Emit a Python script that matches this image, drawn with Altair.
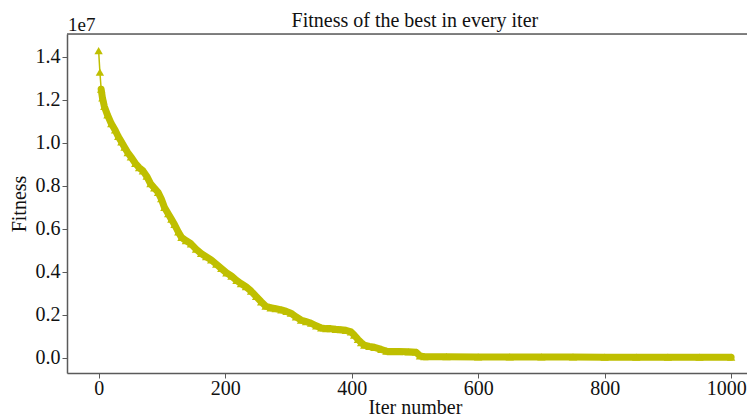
import altair as alt
import pandas as pd

# Data (fitness values, raw units)
iters = [0, 2, 4, 6, 9, 14, 20, 26, 31, 36, 41, 46, 51, 58, 64, 70, 76, 82, 88, 94,
         99, 104, 110, 115, 120, 126, 131, 138, 146, 154, 162, 170, 178, 186, 194,
         202, 210, 218, 225, 233, 241, 249, 257, 264, 272, 280, 289, 297, 304, 312,
         320, 328, 336, 344, 352, 360, 367, 375, 383, 391, 399, 404, 410, 415, 420,
         428, 436, 447, 455, 462, 475, 490, 502, 508, 515, 550, 600, 650, 700, 750,
         800, 850, 900, 950, 1000]
fitness_1e7 = [1.43, 1.33, 1.25, 1.21, 1.17, 1.13, 1.09, 1.06, 1.03, 1.005, 0.98, 0.955,
               0.935, 0.905, 0.885, 0.87, 0.845, 0.81, 0.79, 0.77, 0.74, 0.70, 0.67,
               0.645, 0.62, 0.585, 0.56, 0.545, 0.53, 0.505, 0.485, 0.47, 0.455, 0.435,
               0.415, 0.395, 0.38, 0.36, 0.345, 0.33, 0.31, 0.285, 0.26, 0.24, 0.232,
               0.228, 0.222, 0.215, 0.207, 0.19, 0.175, 0.168, 0.16, 0.148, 0.138,
               0.135, 0.135, 0.132, 0.13, 0.127, 0.12, 0.105, 0.085, 0.07, 0.058,
               0.052, 0.048, 0.038, 0.03, 0.028, 0.028, 0.027, 0.025, 0.008, 0.004,
               0.004, 0.003, 0.003, 0.003, 0.003, 0.002, 0.002, 0.002, 0.002, 0.002]
x_ticks = [0, 200, 400, 600, 800, 1000]
y_ticks = [0.0, 0.2e7, 0.4e7, 0.6e7, 0.8e7, 1.0e7, 1.2e7, 1.4e7]

title_text = "Fitness of the best in every iter"
x_title = "Iter number"
y_title = "Fitness"
offset_text = "1e7"

df = pd.DataFrame({"iter": iters, "fitness": [v * 1e7 for v in fitness_1e7]})
label_df = pd.DataFrame({"t": [title_text], "o": [offset_text]})

FONT = "Liberation Serif"
COLOR = "#bfbf00"
SPINE = "#5a5a5a"
W, H = 680, 339
X_MAX = -50 + W / 0.6325  # plot continues past the picture's right edge
FULL_W = 1100 * 0.6325     # full width of the original axes box

x_enc = alt.X("iter:Q", scale=alt.Scale(domain=[-50, X_MAX], nice=False, zero=False),
              axis=alt.Axis(values=x_ticks, title=x_title, grid=False, format="d",
                            labelFont=FONT, labelFontSize=20, labelColor="#111111",
                            labelBaseline="middle", labelPadding=10, labelFlush=False,
                            labelOffset={"condition": {"test": "datum.value == 1000", "value": -5},
                                         "value": 0},
                            tickSize=5, tickColor=SPINE, tickWidth=1,
                            domainColor=SPINE, domainWidth=1.5,
                            titleFont=FONT, titleFontSize=20, titleFontWeight="normal",
                            titleColor="#111111", titleX=FULL_W / 2, titleY=40,
                            titleBaseline="alphabetic", titleAlign="center"))
y_enc = alt.Y("fitness:Q", scale=alt.Scale(domain=[-0.0717e7, 1.507e7], nice=False, zero=False),
              axis=alt.Axis(values=y_ticks, title=y_title, grid=False,
                            labelExpr="format(datum.value / 1e7, '.1f')",
                            labelFont=FONT, labelFontSize=20, labelColor="#111111",
                            labelPadding=2, labelFlush=False,
                            tickSize=5, tickColor=SPINE, tickWidth=1,
                            domainColor=SPINE, domainWidth=1.5,
                            titleFont=FONT, titleFontSize=20, titleFontWeight="normal",
                            titleColor="#111111", titleX=-48, titleY=H / 2,
                            titleAngle=270, titleBaseline="middle", titleAlign="center"))

base = alt.Chart(df)
thin = base.mark_line(color=COLOR, strokeWidth=1.5).encode(x=x_enc, y=y_enc)
band = base.transform_filter("datum.iter >= 4").mark_line(
    color=COLOR, strokeWidth=7, strokeJoin="round", strokeCap="round").encode(x="iter:Q", y="fitness:Q")
pts = base.mark_point(shape="triangle-up", filled=True, color=COLOR, size=70, opacity=1).encode(
    x="iter:Q", y="fitness:Q")

top_spine = alt.Chart(label_df).mark_rule(color=SPINE, strokeWidth=1.5).encode(
    x=alt.value(0), x2=alt.value(W), y=alt.value(0))
title_mark = alt.Chart(label_df).mark_text(font=FONT, fontSize=20, color="#111111",
                                           align="center", baseline="alphabetic").encode(
    text="t:N", x=alt.value(FULL_W / 2), y=alt.value(-7))
offset_mark = alt.Chart(label_df).mark_text(font=FONT, fontSize=19, color="#111111",
                                            align="left", baseline="alphabetic").encode(
    text="o:N", x=alt.value(1), y=alt.value(-3))

chart = alt.layer(thin, band, pts, top_spine, title_mark, offset_mark).properties(
    width=W, height=H,
    autosize=alt.AutoSizeParams(type="none"),
    padding={"left": 59, "top": 26, "right": 0, "bottom": 45},
).configure_view(stroke="transparent").configure(background="white")

chart.save("out.html", embed_options={"renderer": "svg", "actions": False})
